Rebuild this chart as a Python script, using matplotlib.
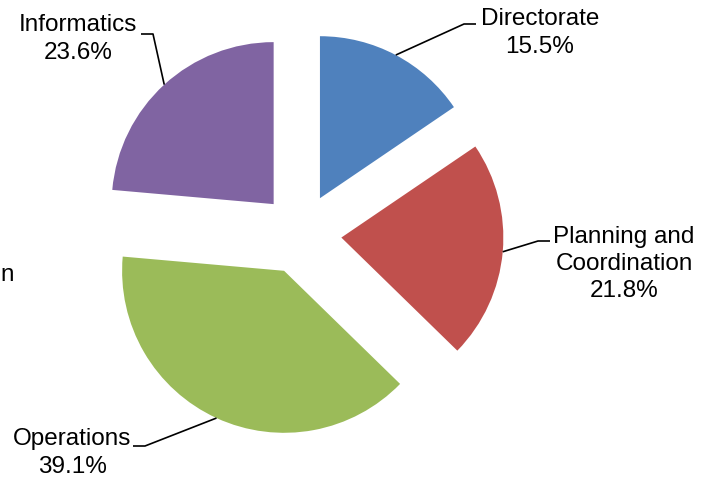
import matplotlib
matplotlib.use("Agg")
import matplotlib.pyplot as plt
import numpy as np

plt.rcParams['font.family'] = ['Liberation Sans', 'DejaVu Sans']

labels = ["Directorate", "Planning and\nCoordination", "Operations", "Informatics"]
shares = [15.5, 21.8, 39.1, 23.6]
colors = ["#4F81BD", "#C0504D", "#9BBB59", "#8064A2"]

W, H = 715, 482
scale = 162.0          # pixels per unit radius
cx, cy = 301, 234      # pie centre in pixels
explode = 0.25

# label placement (text centre, end of the horizontal leader stub), in pixels
text_pos = [(540, 33), (624, 264), (72, 453), (78, 39)]
stub_end = [(476, 24), (550, 241), (133, 446), (141, 34)]
stub_len = 12


def px(x, y):
    return (x - cx) / scale, (cy - y) / scale


fig = plt.figure(figsize=(W / 100, H / 100), dpi=100)
ax = fig.add_axes([0, 0, 1, 1])

wedges, _ = ax.pie(shares, colors=colors, startangle=90, counterclock=False,
                   explode=[explode] * len(shares), radius=1,
                   wedgeprops=dict(linewidth=0))

for w, lab, val, tp, se in zip(wedges, labels, shares, text_pos, stub_end):
    mid = np.deg2rad((w.theta1 + w.theta2) / 2)
    ox, oy = w.center
    ax_, ay_ = ox + np.cos(mid), oy + np.sin(mid)
    ex, ey = px(*se)
    side = 1 if ex > ax_ else -1
    kx = ex - side * stub_len / scale
    ax.plot([ax_, kx, ex], [ay_, ey, ey], color="black", lw=1.2,
            solid_capstyle="butt")
    tx, ty = px(*tp)
    ax.text(tx, ty, f"{lab}\n{val:.1f}%", ha="center", va="center",
            fontsize=17.5, linespacing=1.3)

# stray piece of a label cut off at the left edge
nx, ny = px(0.5, 275)
ax.text(nx, ny, "n", ha="left", va="center", fontsize=17.5)

ax.set_xlim(-cx / scale, (W - cx) / scale)
ax.set_ylim(-(H - cy) / scale, cy / scale)
ax.set_aspect("equal")
ax.axis("off")

fig.savefig("out.png", dpi=100)
